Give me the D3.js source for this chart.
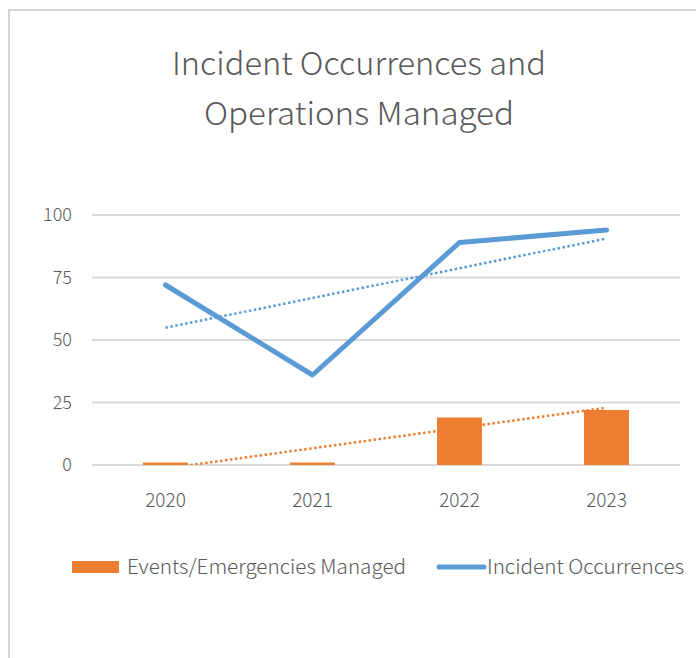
<!DOCTYPE html>
<html>
<head>
<meta charset="utf-8">
<script src="https://cdn.jsdelivr.net/npm/d3@7"></script>
<style>
  body { margin: 0; background: #fff; }
  svg text { font-family: "Noto Sans CJK KR", "Open Sans", sans-serif; fill: #595959; font-weight: 300; }
</style>
</head>
<body>
<script>
// chart values
var years = ['2020', '2021', '2022', '2023'];
var managed = [1, 1, 19, 22];       // bars, orange
var incidents = [72, 36, 89, 94];   // line, blue
var yTicks = [0, 25, 50, 75, 100];

var titleLines = ['Incident Occurrences and', 'Operations Managed'];
var legendNames = ['Events/Emergencies Managed', 'Incident Occurrences'];

var W = 696, H = 658;
var orange = '#ED7D31', blue = '#5B9BD5', grid = '#d9d9d9';

var svg = d3.select('body').append('svg')
    .attr('width', W)
    .attr('height', H);

// chart frame (only top and left edges are in view)
svg.append('line').attr('x1', 8).attr('y1', 10).attr('x2', W).attr('y2', 10)
    .style('stroke', '#d4d4d4').style('stroke-width', 2);
svg.append('line').attr('x1', 9).attr('y1', 10).attr('x2', 9).attr('y2', H)
    .style('stroke', '#d4d4d4').style('stroke-width', 2);

// title
svg.selectAll('.title')
    .data(titleLines)
    .enter()
    .append('text')
    .attr('class', 'title')
    .attr('x', 359)
    .attr('y', function(d, i){ return 75 + i * 50 })
    .attr('text-anchor', 'middle')
    .attr('textLength', function(d, i){ return i == 0 ? 374 : 310 })
    .attr('lengthAdjust', 'spacingAndGlyphs')
    .style('font-size', '32px')
    .text(function(d){ return d });

var x = d3.scaleBand().domain(years).range([92, 680]);
var y = d3.scaleLinear().domain([0, 100]).range([465, 215]);

// gridlines + y labels
svg.selectAll('.grid')
    .data(yTicks)
    .enter()
    .append('line')
    .attr('class', 'grid')
    .attr('x1', x.range()[0])
    .attr('x2', x.range()[1])
    .attr('y1', function(d){ return y(d) })
    .attr('y2', function(d){ return y(d) })
    .style('stroke', grid)
    .style('stroke-width', 2);

svg.selectAll('.ylab')
    .data(yTicks)
    .enter()
    .append('text')
    .attr('class', 'ylab')
    .attr('x', 72)
    .attr('y', function(d){ return y(d) + 6 })
    .attr('text-anchor', 'end')
    .style('font-size', '18px')
    .text(function(d){ return d });

svg.selectAll('.xlab')
    .data(years)
    .enter()
    .append('text')
    .attr('class', 'xlab')
    .attr('x', function(d){ return x(d) + x.bandwidth() / 2 })
    .attr('y', 507)
    .attr('text-anchor', 'middle')
    .style('font-size', '19px')
    .text(function(d){ return d });

// clip for trendlines (plot area)
svg.append('clipPath').attr('id', 'plot')
    .append('rect')
    .attr('x', x.range()[0]).attr('y', y(100) - 20)
    .attr('width', x.range()[1] - x.range()[0])
    .attr('height', y(0) - y(100) + 20);

// bars
var barW = 45;
svg.selectAll('.bar')
    .data(managed)
    .enter()
    .append('rect')
    .attr('class', 'bar')
    .attr('x', function(d, i){ return x(years[i]) + x.bandwidth() / 2 - barW / 2 })
    .attr('y', function(d){ return y(d) })
    .attr('width', barW)
    .attr('height', function(d){ return y(0) - y(d) })
    .style('fill', orange);

// least squares trend, same as the spreadsheet's linear trendline
var trend = function(vals){
    var n = vals.length, mx = (n - 1) / 2, my = d3.mean(vals);
    var num = 0, den = 0;
    vals.forEach(function(v, i){ num += (i - mx) * (v - my); den += (i - mx) * (i - mx) });
    var b = num / den, a = my - b * mx;
    return [{i: 0, v: a}, {i: n - 1, v: a + b * (n - 1)}];
};
var cx = function(i){ return x(years[i]) + x.bandwidth() / 2 };

var line = d3.line()
    .x(function(d, i){ return cx(i) })
    .y(function(d){ return y(d) });

svg.append('path')
    .datum(incidents)
    .attr('d', line)
    .style('fill', 'none')
    .style('stroke', blue)
    .style('stroke-width', 5)
    .style('stroke-linejoin', 'round')
    .style('stroke-linecap', 'round');

var tline = d3.line()
    .x(function(d){ return cx(d.i) })
    .y(function(d){ return y(d.v) });

[[incidents, blue], [managed, orange]].forEach(function(s){
    svg.append('path')
        .datum(trend(s[0]))
        .attr('d', tline)
        .attr('clip-path', 'url(#plot)')
        .style('fill', 'none')
        .style('stroke', s[1])
        .style('stroke-width', 2.5)
        .style('stroke-dasharray', '2.5,2.5');
});

// legend
svg.append('rect')
    .attr('x', 72).attr('y', 561)
    .attr('width', 47).attr('height', 12)
    .style('fill', orange);
svg.append('text')
    .attr('x', 127).attr('y', 574)
    .attr('textLength', 279)
    .attr('lengthAdjust', 'spacingAndGlyphs')
    .style('font-size', '20px')
    .text(legendNames[0]);
svg.append('line')
    .attr('x1', 439).attr('x2', 484)
    .attr('y1', 567).attr('y2', 567)
    .style('stroke', blue)
    .style('stroke-width', 5)
    .style('stroke-linecap', 'round');
svg.append('text')
    .attr('x', 487).attr('y', 574)
    .attr('textLength', 197)
    .attr('lengthAdjust', 'spacingAndGlyphs')
    .style('font-size', '20px')
    .text(legendNames[1]);
</script>
</body>
</html>
